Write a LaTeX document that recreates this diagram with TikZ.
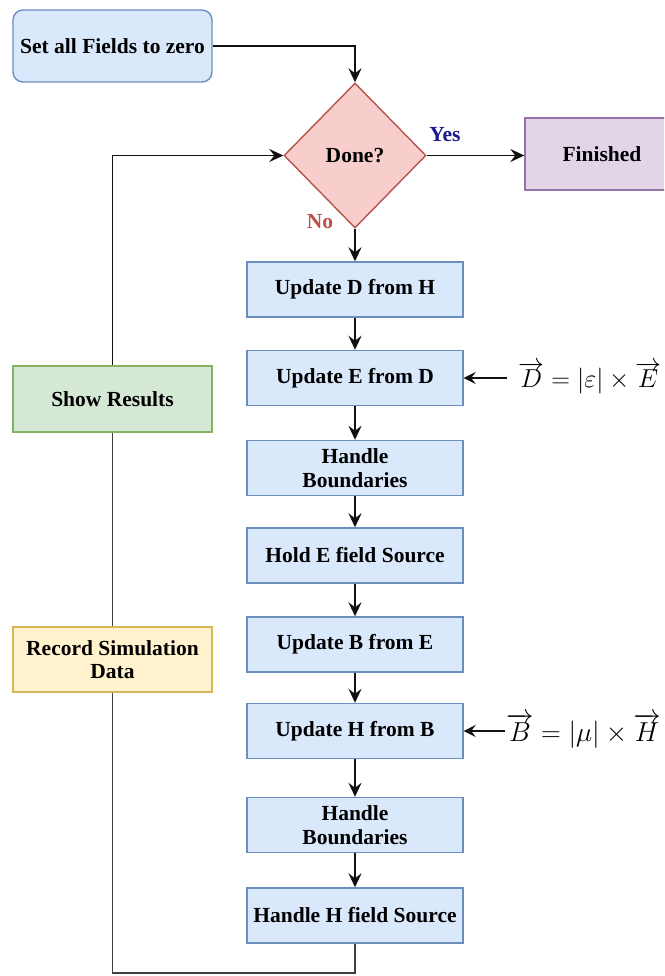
\documentclass[tikz,border=0pt]{standalone}
\usepackage{graphicx}
\usepackage{fontspec}
\setmainfont{Liberation Serif}
\usetikzlibrary{arrows.meta,shapes.geometric}
\definecolor{bfill}{HTML}{DAE8FC}\definecolor{bdraw}{HTML}{6C8EBF}
\definecolor{rfill}{HTML}{F8CECC}\definecolor{rdraw}{HTML}{B85450}
\definecolor{pfill}{HTML}{E1D5E7}\definecolor{pdraw}{HTML}{9673A6}
\definecolor{gfill}{HTML}{D5E8D4}\definecolor{gdraw}{HTML}{82B366}
\definecolor{yfill}{HTML}{FFF2CC}\definecolor{ydraw}{HTML}{D6B656}
\definecolor{yescol}{HTML}{1A1A8C}\definecolor{nocol}{HTML}{C0504D}
\definecolor{lncol}{HTML}{111111}
\begin{document}
\begin{tikzpicture}[x=1pt,y=-1pt,
  font=\fontsize{21.5}{23.5}\selectfont\bfseries,
  proc/.style={draw=bdraw, fill=bfill, line width=1.4pt, minimum width=216pt, minimum height=55pt, inner sep=0pt, align=center},
  side/.style={line width=1.4pt, minimum width=199pt, inner sep=0pt, align=center},
  tip/.style={-{Stealth[length=14pt,width=13pt,inset=5pt]}},
  flow/.style={draw=lncol, line width=1.9pt, tip},
  plain/.style={draw=lncol!80!white, line width=1.7pt},
  eqarrow/.style={draw=lncol, line width=1.4pt, -{Stealth[length=12pt,width=12pt,inset=4.5pt]}},
  eqtext/.style={font=\fontsize{20}{24}\selectfont, inner sep=0pt, anchor=west}
]
\clip (0,0) rectangle (664,976);
\fill[white] (0,0) rectangle (664,976);

% nodes on the loop
\node[proc] (HH) at (355,915.5) {Handle H field Source};
\node[side, draw=ydraw, fill=yfill, minimum height=65pt] (rec) at (112.5,659.5) {Record Simulation\\Data};
\node[side, draw=gdraw, fill=gfill, minimum height=66pt] (show) at (112.5,399) {Show Results};
\node[diamond, draw=rdraw, fill=rfill, line width=1.4pt, minimum width=142pt, minimum height=145pt, inner sep=0pt] (done) at (355,155.5) {Done?};

\coordinate (c1) at (355,973);
\coordinate (c2) at (112.5,973);
\draw[plain] (HH.south) -- (c1) -- (c2) -- (rec.south);
\draw[plain] (rec.north) -- (show.south);
\draw[flow] (show.north) |- (done.west);

% start and end
\node[draw=bdraw, fill=bfill, line width=1.4pt, rounded corners=10pt, minimum width=199pt, minimum height=72pt, inner sep=0pt] (start) at (112.5,46) {Set all Fields to zero};
\node[draw=pdraw, fill=pfill, line width=1.4pt, minimum width=154pt, minimum height=72pt, inner sep=0pt] (fin) at (602,154) {Finished};

% main column
\node[proc] (D) at (355,289.5) {Update D from H};
\node[proc] (E) at (355,378) {Update E from D};
\node[proc] (HB1) at (355,468) {Handle\\Boundaries};
\node[proc] (HE) at (355,555.5) {Hold E field Source};
\node[proc] (B) at (355,644.5) {Update B from E};
\node[proc] (H) at (355,731) {Update H from B};
\node[proc] (HB2) at (355,825) {Handle\\Boundaries};

% labels
\node[text=yescol, inner sep=0pt] (yes) at (445,135) {Yes};
\node[text=nocol, inner sep=0pt] (no) at (320,222) {No};

% equations
\node[eqtext] (eq1) at (518,378) {\scalebox{1.25}{$\overrightarrow{D} = |\varepsilon| \times \overrightarrow{E}$}};
\node[eqtext] (eq2) at (506,731) {\scalebox{1.32}{$\overrightarrow{B} = |\mu| \times \overrightarrow{H}$}};

% connectors
\draw[flow] (start.east) -| (done.north);
\draw[flow] (done.east) -- (done.east -| fin.west);
\draw[flow] (done.south) -- (D.north);
\draw[flow] (D.south) -- (E.north);
\draw[flow] (E.south) -- (HB1.north);
\draw[flow] (HB1.south) -- (HE.north);
\draw[flow] (HE.south) -- (B.north);
\draw[flow] (B.south) -- (H.north);
\draw[flow] (H.south) -- (HB2.north);
\draw[flow] (HB2.south) -- (HH.north);
\draw[eqarrow] ([xshift=-11pt]eq1.west) -- (E.east);
\draw[eqarrow] ([xshift=-1pt]eq2.west) -- (H.east);
\end{tikzpicture}
\end{document}
